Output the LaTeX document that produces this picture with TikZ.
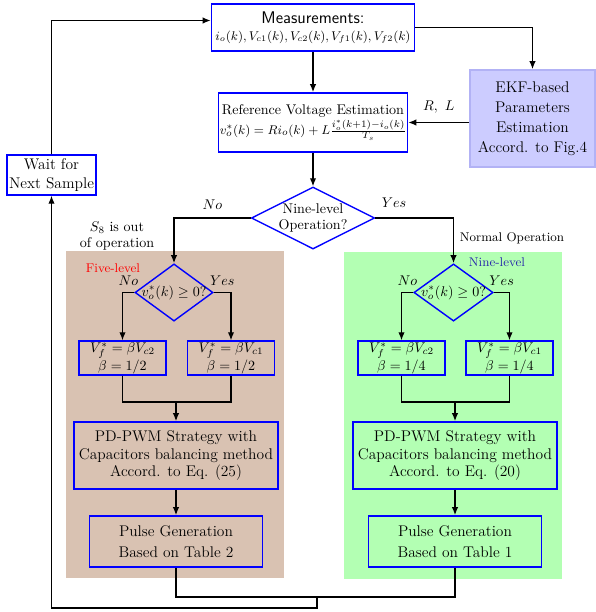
\documentclass[tikz,border=0pt]{standalone}
\usepackage{amsmath, amssymb}
\usetikzlibrary{positioning,arrows.meta,shapes.geometric}
\definecolor{fivebg}{RGB}{217,194,178}
\definecolor{ninebg}{RGB}{179,255,179}
\definecolor{ekffill}{RGB}{204,204,255}
\definecolor{ekfdraw}{RGB}{178,178,245}
\definecolor{ninetext}{RGB}{40,40,170}
\tikzset{
  flowarrow/.style={-{Latex[length=2mm, width=1.6mm]}, line width=0.9pt},
  flowline/.style={line width=0.9pt},
  block/.style={draw=blue, line width=1pt, align=center, inner sep=1pt},
  ekfbox/.style={draw=ekfdraw, line width=1pt, fill=ekffill, align=center, minimum width=3.13cm, minimum height=2.43cm, font=\fontsize{11}{14.2}\selectfont},
  decision/.style={diamond, draw=blue, line width=1pt, inner sep=0pt},
  betabox/.style={block, minimum width=2.18cm, minimum height=0.85cm, font=\fontsize{10}{11}\selectfont},
  pwmbox/.style={block, minimum width=5.1cm, minimum height=1.68cm, font=\fontsize{11}{12.5}\selectfont},
  pulsebox/.style={block, minimum width=4.33cm, minimum height=1.28cm, font=\fontsize{11}{15}\selectfont},
  regionlabel/.style={font=\small}
}

\begin{document}
\begin{tikzpicture}[x=0.025cm, y=-0.025cm]
  \useasboundingbox (0,0) rectangle (596,612);
  % shaded regions
  \fill[fivebg] (66,251) rectangle (284,578);
  \fill[ninebg] (344,252) rectangle (562,579);
  \node[regionlabel, text=red] (fivelab) at (113,268) {Five-level};
  \node[regionlabel, text=ninetext] (ninelab) at (497,262) {Nine-level};

  % top part
  \node[block, minimum width=5.08cm, minimum height=1.18cm] (meas) at (313,27.5)
    {{\sffamily\large Measurements:}\\ \small $i_o(k),V_{c1}(k),V_{c2}(k),V_{f1}(k),V_{f2}(k)$};
  \node[block, minimum width=4.63cm, minimum height=1.48cm] (ref) at (313,122.5)
    {Reference Voltage Estimation\\[1pt] \fontsize{9.5}{11}\selectfont $v_o^*(k)=Ri_o(k)+L\frac{i_o^*(k+1)-i_o(k)}{T_s}$};
  \node[ekfbox] (ekf) at (532.5,118.5) {EKF-based\\Parameters\\Estimation\\Accord. to Fig.4};
  \node[block, minimum width=2.23cm, minimum height=1.0cm, font=\fontsize{11}{13}\selectfont] (wait) at (51.5,175) {Wait for\\Next Sample};
  \node[decision, minimum width=3.08cm, minimum height=1.55cm,
    label={[align=center]center:Nine-level\\Operation?}] (op) at (313,218) {};

  % sign checks
  \node[decision, minimum width=1.95cm, minimum height=1.43cm,
    label={center:$v_o^*(k)\geq 0?$}] (signL) at (174,292.5) {};
  \node[decision, minimum width=1.98cm, minimum height=1.43cm,
    label={center:$v_o^*(k)\geq 0?$}] (signR) at (453.5,292.5) {};

  % reference selection
  \node[betabox] (b1) at (122.5,358) {$V_f^*=\beta V_{c2}$\\$\beta=1/2$};
  \node[betabox] (b2) at (231,358) {$V_f^*=\beta V_{c1}$\\$\beta=1/2$};
  \node[betabox] (b3) at (401.5,358) {$V_f^*=\beta V_{c2}$\\$\beta=1/4$};
  \node[betabox] (b4) at (509.5,358) {$V_f^*=\beta V_{c1}$\\$\beta=1/4$};

  \node[pwmbox] (pwmL) at (176,455.5) {PD-PWM Strategy with\\Capacitors balancing method\\Accord. to Eq. (25)};
  \node[pwmbox] (pwmR) at (455,455.5) {PD-PWM Strategy with\\Capacitors balancing method\\Accord. to Eq. (20)};
  \node[pulsebox] (pulseL) at (176,541.5) {Pulse Generation\\Based on Table 2};
  \node[pulsebox] (pulseR) at (455,541.5) {Pulse Generation\\Based on Table 1};

  \node[align=center] (outnote) at (117,236) {$S_8$ is out\\of operation};
  \node[anchor=west, font=\small] (normnote) at (455,238) {Normal Operation};

  \coordinate (joinL) at (176,402);
  \coordinate (joinR) at (455,402);
  \coordinate (joinB) at (317,597);
  \coordinate (loop) at (51.5,608);

  % connectors
  \draw[flowarrow] (meas) -- (ref);
  \draw[flowarrow] (meas.east) -| (ekf.north);
  \draw[flowarrow] (ekf.west |- ref.east) -- (ref.east) node[midway, above=3pt] {$R,\ L$};
  \draw[flowarrow] (ref) -- (op);
  \draw[flowarrow] (op.west) -| (signL.north) node[pos=0.25, above=2pt] {$No$};
  \draw[flowarrow] (op.east) -| (signR.north) node[pos=0.12, above=4pt] {$Yes$};
  \draw[flowarrow] (signL.west) -| (b1.north) node[pos=0.25, above=1pt] {$No$};
  \draw[flowarrow] (signL.east) -| (b2.north) node[pos=0.25, above=1pt] {$Yes$};
  \draw[flowarrow] (signR.west) -| (b3.north) node[pos=0.25, above=1pt] {$No$};
  \draw[flowarrow] (signR.east) -| (b4.north) node[pos=0.25, above=1pt] {$Yes$};
  \draw[flowline] (b1.south) |- (joinL) -| (b2.south);
  \draw[flowline] (b3.south) |- (joinR) -| (b4.south);
  \draw[flowarrow] (joinL) -- (pwmL.north);
  \draw[flowarrow] (joinR) -- (pwmR.north);
  \draw[flowarrow] (pwmL) -- (pulseL);
  \draw[flowarrow] (pwmR) -- (pulseR);
  \draw[flowline] (pulseL.south) |- (joinB) -| (pulseR.south);
  \draw[flowarrow] (joinB) |- (loop) -- (wait.south);
  \draw[flowarrow] (wait.north) |- ([yshift=1.75mm]meas.west);
\end{tikzpicture}
\end{document}
